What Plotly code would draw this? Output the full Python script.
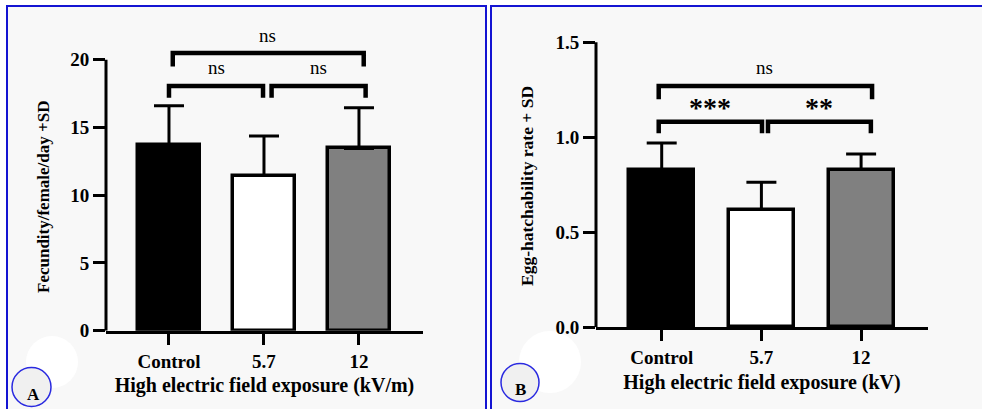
import plotly.graph_objects as go

# ---------------- data ----------------
categories = ["Control", "5.7", "12"]
fecundity_mean = [13.7, 11.45, 13.45]
fecundity_sd = [2.9, 2.92, 3.0]
hatch_mean = [0.83, 0.62, 0.83]
hatch_sd = [0.14, 0.143, 0.082]
fecundity_ticks = [0, 5, 10, 15, 20]
hatch_ticks = [0.0, 0.5, 1.0, 1.5]
hatch_ticktext = ["0.0", "0.5", "1.0", "1.5"]

# significance brackets: (x_left, x_right, y_leg_bottom, y_bar, label, label_x, label_y)
sig_a = [
    (0.04, 2.05, 19.5, 20.5, "ns", 1.04, 21.8),
    (0.00, 0.99, 17.2, 18.05, "ns", 0.50, 19.45),
    (1.08, 2.07, 17.2, 18.05, "ns", 1.57, 19.45),
]
sig_b = [
    (-0.03, 2.11, 1.20, 1.27, "ns", 1.03, 1.37),
    (-0.03, 1.006, 1.021, 1.082, "***", 0.485, 1.158),
    (1.066, 2.098, 1.021, 1.082, "**", 1.58, 1.158),
]

W, H = 982, 409
def px(x):
    return x / W
def py(y):
    return 1 - y / H

SERIF = "Liberation Serif, Times New Roman, serif"
bar_colors = ["#000000", "#ffffff", "#808080"]

fig = go.Figure()

def add_bars(mean, sd, xa, ya, width):
    fig.add_trace(go.Bar(
        x=list(range(len(categories))), y=mean, xaxis=xa, yaxis=ya,
        width=width,
        marker=dict(color=bar_colors, line=dict(color="black", width=3.5)),
        error_y=dict(type="data", symmetric=False, array=sd,
                     arrayminus=[0] * len(sd), thickness=3, width=15,
                     color="black"),
        showlegend=False, hoverinfo="skip",
    ))

add_bars(fecundity_mean, fecundity_sd, "x", "y", 0.65)
add_bars(hatch_mean, hatch_sd, "x2", "y2", 0.652)

annotations = []
def add_brackets(specs, xa, ya, star_size):
    for (x0, x1, yb, yt, lab, lx, ly) in specs:
        fig.add_trace(go.Scatter(
            x=[x0, x0, x1, x1], y=[yb, yt, yt, yb], xaxis=xa, yaxis=ya,
            mode="lines", line=dict(color="black", width=4.5),
            showlegend=False, hoverinfo="skip"))
        star = "*" in lab
        annotations.append(dict(
            x=lx, y=ly, xref=xa, yref=ya, text=lab, showarrow=False,
            xanchor="center", yanchor="middle",
            font=dict(family=SERIF, size=star_size if star else 19,
                      color="black", weight="bold" if star else "normal")))

add_brackets(sig_a, "x", "y", 28)
add_brackets(sig_b, "x2", "y2", 28)

tickfont = dict(family=SERIF, size=19, color="black", weight="bold")
titlefont = dict(family=SERIF, size=20, color="black", weight="bold")

xa_dom = [px(106), px(423)]
ya_dom = [py(330.7), py(20)]
xb_dom = [px(596), px(928)]
yb_dom = [py(327.3), py(20)]

common_x = dict(showline=True, linewidth=3, linecolor="black", ticks="outside",
                ticklen=11, tickwidth=3, tickcolor="black", showgrid=False,
                zeroline=False, tickvals=[0, 1, 2], ticktext=categories,
                tickfont=tickfont, fixedrange=True, automargin=False)
common_y = dict(showline=False, ticks="outside", ticklen=12, tickwidth=3,
                tickcolor="black", showgrid=False, zeroline=False,
                tickfont=tickfont, fixedrange=True, automargin=False)

fig.update_layout(
    width=W, height=H, margin=dict(l=0, r=0, t=0, b=0, pad=0, autoexpand=False),
    paper_bgcolor="white", plot_bgcolor="rgba(0,0,0,0)",
    bargap=0,
    xaxis=dict(domain=xa_dom, range=[-0.663, 2.674], anchor="y",
               title=dict(text="High electric field exposure (kV/m)",
                          font=titlefont, standoff=8), **common_x),
    yaxis=dict(domain=ya_dom, range=[0, (330.7 - 20) / 13.55], anchor="x",
               tickvals=fecundity_ticks, **common_y),
    xaxis2=dict(domain=xb_dom, range=[-0.659, 2.671], anchor="y2",
                title=dict(text="High electric field exposure (kV)",
                           font=titlefont, standoff=8), **common_x),
    yaxis2=dict(domain=yb_dom, range=[0, (327.3 - 20) / 190.0], anchor="x2",
                tickvals=hatch_ticks, ticktext=hatch_ticktext, **common_y),
)

shapes = []
# panel frames
shapes.append(dict(type="rect", xref="paper", yref="paper", x0=px(7), x1=px(486),
                   y0=-0.05, y1=py(6), fillcolor="#f8f8f8",
                   line=dict(color="#1414d2", width=2), layer="below"))
shapes.append(dict(type="rect", xref="paper", yref="paper", x0=px(491), x1=1.05,
                   y0=-0.05, y1=py(6), fillcolor="#f8f8f8",
                   line=dict(color="#1414d2", width=2), layer="below"))
# faint white discs
for cx, cy, r in [(52, 362, 26), (550, 362, 31)]:
    shapes.append(dict(type="circle", xref="paper", yref="paper",
                       x0=px(cx - r), x1=px(cx + r), y0=py(cy + r), y1=py(cy - r),
                       fillcolor="white", line=dict(width=0), layer="below"))
# panel letter circles
for cx, cy, r in [(31.5, 387, 19.5), (520, 382.5, 19)]:
    shapes.append(dict(type="circle", xref="paper", yref="paper",
                       x0=px(cx - r), x1=px(cx + r), y0=py(cy + r), y1=py(cy - r),
                       fillcolor="#f0f0f0", line=dict(color="#2a2ae0", width=1.5),
                       layer="below"))
# y-axis lines (only up to the last tick)
shapes.append(dict(type="line", xref="paper", yref="y", x0=px(106), x1=px(106),
                   y0=0, y1=20, line=dict(color="black", width=3)))
shapes.append(dict(type="line", xref="paper", yref="y2", x0=px(596), x1=px(596),
                   y0=0, y1=1.5, line=dict(color="black", width=3)))

annotations += [
    dict(x=px(43), y=py(197), xref="paper", yref="paper", text="Fecundity/female/day +SD",
         textangle=-90, showarrow=False, xanchor="center", yanchor="middle",
         font=dict(family=SERIF, size=17, color="black", weight="bold")),
    dict(x=px(527), y=py(186), xref="paper", yref="paper", text="Egg-hatchability rate + SD",
         textangle=-90, showarrow=False, xanchor="center", yanchor="middle",
         font=dict(family=SERIF, size=17.5, color="black", weight="bold")),
    dict(x=px(33.5), y=py(394.5), xref="paper", yref="paper", text="A", showarrow=False,
         xanchor="center", yanchor="middle",
         font=dict(family=SERIF, size=17, color="black", weight="bold")),
    dict(x=px(520), y=py(389.5), xref="paper", yref="paper", text="B", showarrow=False,
         xanchor="center", yanchor="middle",
         font=dict(family=SERIF, size=17, color="black", weight="bold")),
]

fig.update_layout(shapes=shapes, annotations=annotations)
fig.write_html("out.html")
